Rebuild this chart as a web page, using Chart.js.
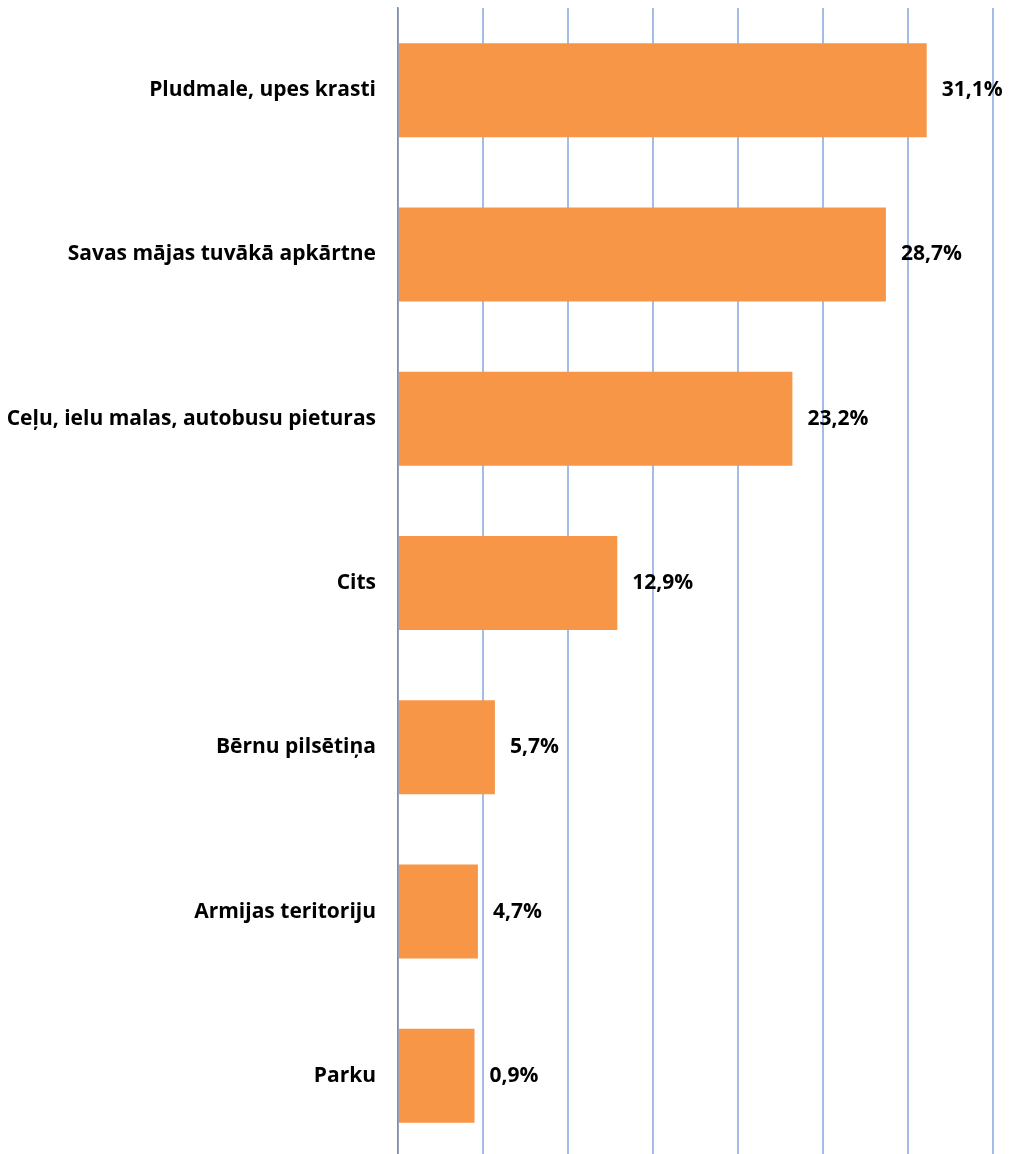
<!DOCTYPE html>
<html>
<head>
<meta charset="utf-8">
<script src="https://cdn.jsdelivr.net/npm/chart.js@4"></script>
<style>
html,body{margin:0;padding:0;background:#fff;overflow:hidden;}
#wrap{position:relative;width:1013px;height:1158px;}
</style>
</head>
<body>
<div id="wrap"><canvas id="c"></canvas></div>
<script>
const categories = [
  "Pludmale, upes krasti",
  "Savas mājas tuvākā apkārtne",
  "Ceļu, ielu malas, autobusu pieturas",
  "Cits",
  "Bērnu pilsētiņa",
  "Armijas teritoriju",
  "Parku"
];
// bar lengths as drawn in the picture (%)
const barValues = [31.1, 28.7, 23.2, 12.9, 5.7, 4.7, 4.5];
// value labels as printed in the picture
const valueLabels = ["31,1%", "28,7%", "23,2%", "12,9%", "5,7%", "4,7%", "0,9%"];
const axisMax = 35;
const axisStep = 5;

const FONT = "'Open Sans', Lato, sans-serif";

const labelPlugin = {
  id: 'valueLabels',
  afterDatasetsDraw(chart) {
    const ctx = chart.ctx;
    const meta = chart.getDatasetMeta(0);
    ctx.save();
    ctx.font = "bold 21px " + FONT;
    ctx.fillStyle = "#000";
    ctx.textAlign = "left";
    ctx.textBaseline = "middle";
    meta.data.forEach((bar, i) => {
      ctx.fillText(valueLabels[i], bar.x + 15, bar.y);
    });
    ctx.restore();
  }
};

new Chart(document.getElementById('c'), {
  type: 'bar',
  data: {
    labels: categories,
    datasets: [{
      data: barValues,
      backgroundColor: '#F79646',
      borderWidth: 0,
      categoryPercentage: 1,
      barPercentage: 0.572
    }]
  },
  options: {
    indexAxis: 'y',
    responsive: true,
    maintainAspectRatio: false,
    animation: false,
    layout: { padding: { top: 8, right: 20, bottom: 0, left: 0 } },
    plugins: { legend: { display: false }, tooltip: { enabled: false } },
    scales: {
      x: {
        min: 0, max: axisMax,
        afterFit(scale) { scale.height = 0; scale.paddingLeft = 0; scale.paddingRight = 0; },
        ticks: { display: false, stepSize: axisStep },
        grid: { color: '#a3bce8', lineWidth: 2, drawTicks: false },
        border: { display: false }
      },
      y: {
        afterFit(scale) { scale.width = 398; scale.paddingTop = 0; scale.paddingBottom = 0; },
        ticks: { color: '#000', font: { family: FONT, size: 21, weight: 'bold' }, padding: 22 },
        grid: { display: false, drawTicks: false },
        border: { display: true, color: '#8c8c8c', width: 1.5 }
      }
    }
  },
  plugins: [labelPlugin]
});
</script>
</body>
</html>
